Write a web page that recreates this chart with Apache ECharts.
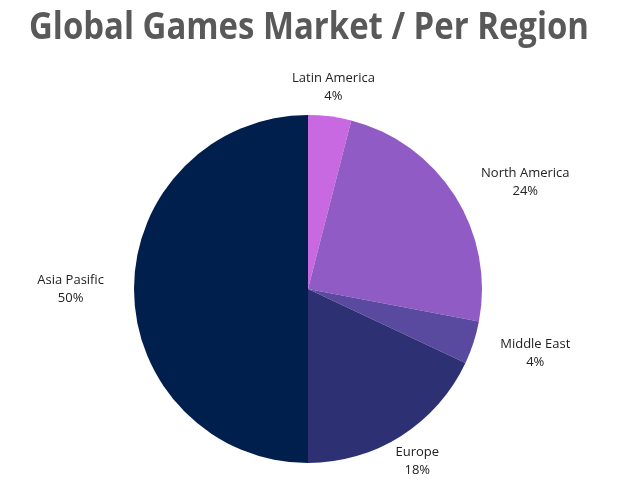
<!DOCTYPE html>
<html><head><meta charset="utf-8">
<script src="https://cdn.jsdelivr.net/npm/echarts@6/dist/echarts.min.js"></script>
<style>html,body{margin:0;padding:0;background:#fff}#c{width:624px;height:492px}</style>
</head><body><div id="c"></div>
<script>
const categories = ['Latin America', 'North America', 'Middle East', 'Europe', 'Asia Pasific'];
const values = [4, 24, 4, 18, 50];
const colors = ['#c869e1', '#915bc5', '#5a4a9f', '#2d3173', '#001f4c'];
const centeredLabels = ['Latin America', 'Europe'];
const labelGapByName = {'Latin America': 29, 'Europe': 30, 'Middle East': 26};

const chart = echarts.init(document.getElementById('c'), null, {renderer: 'canvas'});
chart.setOption({
  animation: false,
  graphic: [{
    type: 'text',
    x: 309, y: 9,
    scaleX: 0.866,
    style: {
      text: 'Global Games Market / Per Region',
      align: 'center', verticalAlign: 'top',
      font: 'bold 38px "Open Sans"', fill: '#595959'
    }
  }],
  series: [{
    type: 'pie',
    center: [308, 289],
    radius: 174,
    startAngle: 90,
    clockwise: true,
    data: categories.map((c, i) => ({
      name: c, value: values[i], itemStyle: {color: colors[i]},
      labelLine: {length: labelGapByName[c] || 25}
    })),
    label: {
      show: true, position: 'outside',
      formatter: p => p.name + '\n' + p.value + '%',
      fontFamily: 'Open Sans', fontSize: 13, color: '#222', lineHeight: 18
    },
    labelLine: {show: false, length: 25, length2: 0},
    labelLayout: p => {
      const name = categories[p.dataIndex];
      if (centeredLabels.includes(name)) return {align: 'center', dx: -5};
      const half = p.labelRect.width / 2;
      const dx = p.align === 'right' ? -half : half;
      if (name === 'Middle East') return {align: 'center', dx: dx - 3, dy: 2};
      return {align: 'center', dx: dx};
    }
  }]
});
</script></body></html>
